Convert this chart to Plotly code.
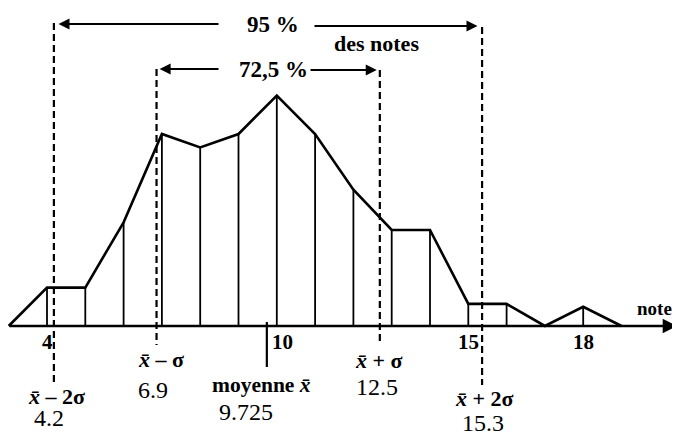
import plotly.graph_objects as go

notes = [3, 4, 5, 6, 7, 8, 9, 10, 11, 12, 13, 14, 15, 16, 17, 18, 19]
freq = [0, 2, 2, 5.4, 10, 9.3, 10, 12, 10, 7.1, 5, 5, 1.15, 1.15, 0, 1, 0]

tick_vals = [4, 10, 15, 18]

# mean and mean +/- sigma lines (positions as drawn) and their printed labels
sigma_x = [4.18, 6.86, 12.69, 15.36]
sigma_names = ["<i>x\u0304</i> \u2013 2\u03c3", "<i>x\u0304</i> \u2013 \u03c3",
               "<i>x\u0304</i> + \u03c3", "<i>x\u0304</i> + 2\u03c3"]
sigma_values = ["4.2", "6.9", "12.5", "15.3"]
mean_x = 9.74
mean_value = "9.725"

W, H = 680, 437
PX_X = 38.3   # px per note
PX_Y = 19.2   # px per frequency unit
OFF = 8       # page body margin


def xpx(p):
    # window column -> note value
    return 4 + (p - 47) / PX_X


def ypx(p):
    # window row -> frequency value
    return (326 - p) / PX_Y


x_lo = xpx(OFF)
x_hi = x_lo + W / PX_X
y_hi = ypx(OFF)
y_lo = y_hi - H / PX_Y

SERIF = "Liberation Serif"
fig = go.Figure()

# verticals under the polygon
vx, vy = [], []
for n, f in zip(notes, freq):
    if f > 0:
        vx += [n, n, None]
        vy += [0, f, None]
fig.add_trace(go.Scatter(x=vx, y=vy, mode="lines", line=dict(color="black", width=1.8),
                         hoverinfo="skip"))

# frequency polygon
fig.add_trace(go.Scatter(x=notes, y=freq, mode="lines", line=dict(color="black", width=2.6),
                         hoverinfo="skip"))

# dashed sigma lines
tops = [23, 69, 70, 27]
bottoms = [382, 345, 345, 385]
for sx, t, b in zip(sigma_x, tops, bottoms):
    fig.add_trace(go.Scatter(x=[sx, sx], y=[ypx(t), ypx(b)], mode="lines",
                             line=dict(color="black", width=2.2, dash="7px,4px"),
                             hoverinfo="skip"))

# mean marker
fig.add_trace(go.Scatter(x=[mean_x, mean_x], y=[ypx(322), ypx(367)], mode="lines",
                         line=dict(color="black", width=2.2), hoverinfo="skip"))

annotations = []

# x axis with arrow
annotations.append(dict(x=xpx(677), y=0, ax=xpx(8), ay=0,
                        xref="x", yref="y", axref="x", ayref="y", text="",
                        showarrow=True, arrowhead=2, arrowsize=1.1, arrowwidth=2.6,
                        arrowcolor="black"))
annotations.append(dict(x=xpx(654), y=ypx(308), text="<b>note</b>", showarrow=False,
                        font=dict(family=SERIF, size=19, color="black")))

# tick labels
for t in tick_vals:
    annotations.append(dict(x=t, y=ypx(342), text="<b>%d</b>" % t, showarrow=False,
                            xshift=6 if t == 10 else 0,
                            font=dict(family=SERIF, size=21, color="black")))

# sigma labels
name_pos = [(3, 396), (4, 359), (-1, 360), (2, 398)]
val_pos = [(-5, 418), (-4, 390), (-3, 387), (1, 423)]
for sx, nm, vl, (nxs, ny), (vxs, vyp) in zip(sigma_x, sigma_names, sigma_values, name_pos, val_pos):
    annotations.append(dict(x=sx, y=ypx(ny), xshift=nxs, text="<b>" + nm + "</b>",
                            showarrow=False, font=dict(family=SERIF, size=22, color="black")))
    annotations.append(dict(x=sx, y=ypx(vyp), xshift=vxs, text=vl, showarrow=False,
                            font=dict(family=SERIF, size=24, color="black")))

annotations.append(dict(x=mean_x, y=ypx(385), xshift=-5, text="<b>moyenne <i>x\u0304</i></b>",
                        showarrow=False, font=dict(family=SERIF, size=21.5, color="black")))
annotations.append(dict(x=mean_x, y=ypx(412), xshift=-21, text=mean_value,
                        showarrow=False, font=dict(family=SERIF, size=24, color="black")))


# top range arrows
def arrow(tip, tail, yrow):
    return dict(x=tip, y=ypx(yrow), ax=tail, ay=ypx(yrow), xref="x", yref="y",
                axref="x", ayref="y", text="", showarrow=True, arrowhead=2,
                arrowsize=1.1, arrowwidth=2, arrowcolor="black")


annotations.append(arrow(sigma_x[0] + 0.12, xpx(220), 24))
annotations.append(arrow(sigma_x[3] - 0.12, xpx(313), 26))
annotations.append(arrow(sigma_x[1] + 0.08, xpx(220), 69))
annotations.append(arrow(sigma_x[2] - 0.08, xpx(309), 70))

annotations.append(dict(x=xpx(273), y=ypx(24), text="<b>95 %</b>", showarrow=False,
                        font=dict(family=SERIF, size=23, color="black")))
annotations.append(dict(x=xpx(376), y=ypx(43), text="<b>des notes</b>", showarrow=False,
                        font=dict(family=SERIF, size=22, color="black")))
annotations.append(dict(x=xpx(273), y=ypx(69), text="<b>72,5 %</b>", showarrow=False,
                        font=dict(family=SERIF, size=23, color="black")))

fig.update_layout(
    width=W, height=H,
    margin=dict(l=0, r=0, t=0, b=0),
    paper_bgcolor="white", plot_bgcolor="white",
    showlegend=False,
    xaxis=dict(range=[x_lo, x_hi], visible=False, fixedrange=True),
    yaxis=dict(range=[y_lo, y_hi], visible=False, fixedrange=True),
    annotations=annotations,
)

fig.write_html("out.html", config={"displayModeBar": False})
